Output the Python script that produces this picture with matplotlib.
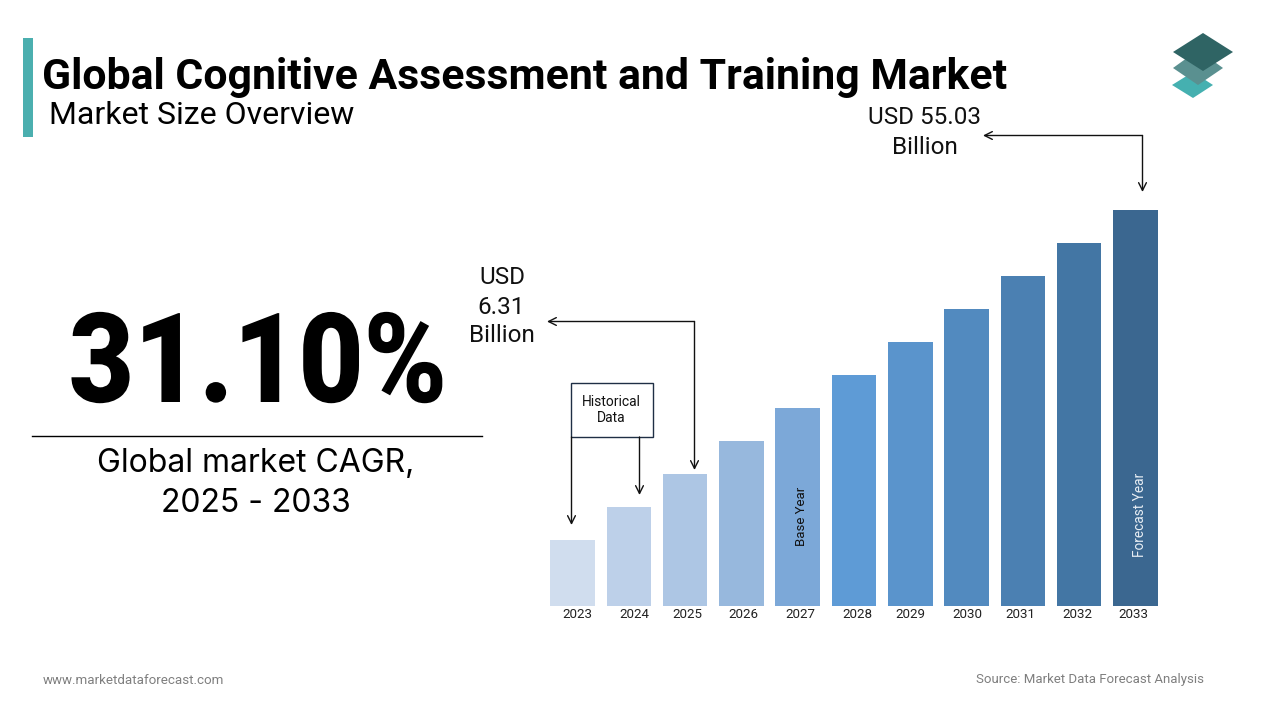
import matplotlib
matplotlib.use("Agg")
import matplotlib.pyplot as plt
from matplotlib.patches import Polygon, Rectangle
from matplotlib.patheffects import AbstractPathEffect
from matplotlib.transforms import Affine2D

W, H = 1280, 720

years = ["2023", "2024", "2025", "2026", "2027", "2028", "2029", "2030", "2031", "2032", "2033"]
# bars are illustrative, heights read off the picture (no axis in the original)
bar_heights = [66, 99, 132, 165, 198, 231, 264, 297, 330, 363, 396]
bar_colors = ["#D0DDEE", "#BDD0E9", "#ADC6E4", "#97B8DD", "#7CA8D8", "#5E9BD6",
              "#5A94CC", "#528ABF", "#4B80B2", "#4376A4", "#3B6790"]
# year labels don't sit exactly under their bars
year_label_x = [577, 634, 687, 743, 800, 857, 910, 967, 1020, 1077, 1133]


class SqueezeX(AbstractPathEffect):
    """Squeeze a text horizontally around one pixel column."""

    def __init__(self, cx, sx):
        self.cx, self.sx = cx, sx

    def draw_path(self, renderer, gc, tpath, affine, rgbFace=None):
        squeeze = Affine2D().translate(-self.cx, 0).scale(self.sx, 1).translate(self.cx, 0)
        renderer.draw_path(gc, tpath, affine + squeeze, rgbFace)


plt.rcParams["font.family"] = ["Roboto", "DejaVu Sans"]
fig = plt.figure(figsize=(W / 100, H / 100), dpi=100, facecolor="white")

# ---- overlay in pixel coords for text, arrows and logo ----
ov = fig.add_axes([0, 0, 1, 1], zorder=3)
ov.set_xlim(0, W)
ov.set_ylim(H, 0)
ov.axis("off")
ov.patch.set_alpha(0)

# ---- bars ----
left, right, base, top = 544.4, 1163.6, 606, 190
ax = fig.add_axes([left / W, 1 - base / H, (right - left) / W, (base - top) / H], zorder=1)
ax.bar(range(len(years)), bar_heights, width=0.79, color=bar_colors, linewidth=0)
ax.set_xlim(-0.5, 10.5)
ax.set_ylim(0, base - top)
ax.axis("off")

for x, y in zip(year_label_x, years):
    ov.text(x, 614, y, ha="center", va="center", fontsize=9.6, color="#222222")

ov.text(801.5, 516.5, "Base Year", rotation=90, ha="center", va="center", fontsize=9.5, color="#111111")
ov.text(1140.5, 515, "Forecast Year", rotation=90, ha="center", va="center", fontsize=9.8, color="#E8EEF4")

# ---- header ----
ov.add_patch(Rectangle((23, 38), 10, 99, color="#4BAFAF", lw=0))
ov.text(42, 77, "Global Cognitive Assessment and Training Market", ha="left", va="center",
        fontsize=30.8, fontweight="bold", color="black")
ov.text(49, 115, "Market Size Overview", ha="left", va="center", fontsize=23, color="black")

# logo
ov.add_patch(Polygon([(1193, 72), (1213, 85), (1193, 98), (1172, 85)], color="#45B0B0", lw=0))
ov.add_patch(Polygon([(1198, 50), (1223, 68), (1198, 85), (1173, 68)], color="#5A9090", lw=0))
ov.add_patch(Polygon([(1203, 33), (1233, 52), (1203, 71), (1173, 52)], color="#2F6464", lw=0))

# ---- left block ----
ov.text(258, 368, "31.10%", ha="center", va="center", fontsize=90, fontweight="black", color="black",
        path_effects=[SqueezeX(258, 0.9)])
ov.plot([32, 482], [436, 436], color="black", lw=1)
ov.text(256, 464, "Global market CAGR,", ha="center", va="center", fontsize=23,
        family=["Inter", "DejaVu Sans"], color="black")
ov.text(256, 503, "2025 - 2033", ha="center", va="center", fontsize=23,
        family=["Inter", "DejaVu Sans"], color="black")

# ---- callouts ----
ov.text(925, 118, "USD 55.03", ha="center", va="center", fontsize=17.5, color="#111111")
ov.text(925, 147, "Billion", ha="center", va="center", fontsize=17.5, color="#111111")
ov.text(502, 278, "USD", ha="center", va="center", fontsize=17.5, color="#111111")
ov.text(501, 307, "6.31", ha="center", va="center", fontsize=17.5, color="#111111")
ov.text(502, 335, "Billion", ha="center", va="center", fontsize=17.5, color="#111111")


def arrow(x0, y0, x1, y1):
    ov.annotate("", xy=(x1, y1), xytext=(x0, y0),
                arrowprops=dict(arrowstyle="->", color="#111111", lw=1, shrinkA=0, shrinkB=0,
                                mutation_scale=14))


arrow(1142.5, 135.5, 983, 135.5)
arrow(1142.5, 135.5, 1142.5, 192)
arrow(694.5, 321.5, 547, 321.5)
arrow(694.5, 321.5, 694.5, 470)

ov.add_patch(Rectangle((570.5, 382.5), 82, 54, facecolor="white", edgecolor="#1F2F45", lw=1))
ov.text(611.5, 402, "Historical", ha="center", va="center", fontsize=10, color="#111111")
ov.text(611, 418, "Data", ha="center", va="center", fontsize=10, color="#111111")
arrow(571.5, 437, 571.5, 525)
arrow(639.5, 437, 639.5, 495)

# ---- footer ----
ov.text(43, 680, "www.marketdataforecast.com", ha="left", va="center", fontsize=9.6, color="#7F7F7F")
ov.text(1204, 680, "Source: Market Data Forecast Analysis", ha="right", va="center", fontsize=9.55, color="#7F7F7F")

fig.savefig("out.png", dpi=100)
